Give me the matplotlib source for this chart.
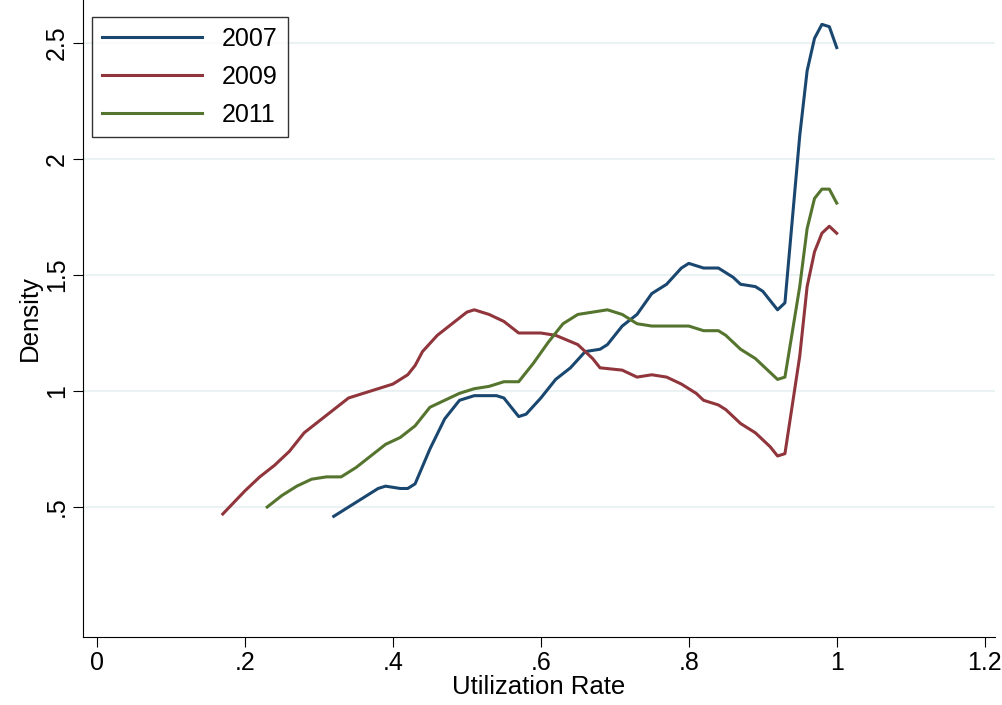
import matplotlib
matplotlib.use("Agg")
import matplotlib.pyplot as plt

plt.rcParams["font.family"] = ["Liberation Sans", "DejaVu Sans"]

X07 = [0.32, 0.35, 0.38, 0.39, 0.41, 0.42, 0.43, 0.45, 0.47, 0.49, 0.51, 0.54, 0.55, 0.57, 0.58, 0.60,
       0.62, 0.64, 0.66, 0.68, 0.69, 0.71, 0.73, 0.75, 0.77, 0.79, 0.80, 0.82, 0.84, 0.86, 0.87, 0.89,
       0.90, 0.92, 0.93, 0.95, 0.96, 0.97, 0.98, 0.99, 1.00]
Y07 = [0.46, 0.52, 0.58, 0.59, 0.58, 0.58, 0.60, 0.75, 0.88, 0.96, 0.98, 0.98, 0.97, 0.89, 0.90, 0.97,
       1.05, 1.10, 1.17, 1.18, 1.20, 1.28, 1.33, 1.42, 1.46, 1.53, 1.55, 1.53, 1.53, 1.49, 1.46, 1.45,
       1.43, 1.35, 1.38, 2.10, 2.38, 2.52, 2.58, 2.57, 2.48]

X09 = [0.17, 0.20, 0.22, 0.24, 0.26, 0.28, 0.30, 0.32, 0.34, 0.36, 0.38, 0.40, 0.42, 0.43, 0.44, 0.46,
       0.48, 0.50, 0.51, 0.53, 0.55, 0.57, 0.60, 0.62, 0.65, 0.67, 0.68, 0.71, 0.73, 0.75, 0.77, 0.79,
       0.81, 0.82, 0.84, 0.85, 0.87, 0.89, 0.91, 0.92, 0.93, 0.95, 0.96, 0.97, 0.98, 0.99, 1.00]
Y09 = [0.47, 0.57, 0.63, 0.68, 0.74, 0.82, 0.87, 0.92, 0.97, 0.99, 1.01, 1.03, 1.07, 1.11, 1.17, 1.24,
       1.29, 1.34, 1.35, 1.33, 1.30, 1.25, 1.25, 1.24, 1.20, 1.14, 1.10, 1.09, 1.06, 1.07, 1.06, 1.03,
       0.99, 0.96, 0.94, 0.92, 0.86, 0.82, 0.76, 0.72, 0.73, 1.15, 1.45, 1.60, 1.68, 1.71, 1.68]

X11 = [0.23, 0.25, 0.27, 0.29, 0.31, 0.33, 0.35, 0.37, 0.39, 0.41, 0.43, 0.45, 0.47, 0.49, 0.51, 0.53,
       0.55, 0.57, 0.59, 0.61, 0.63, 0.65, 0.67, 0.69, 0.71, 0.73, 0.75, 0.78, 0.80, 0.82, 0.84, 0.85,
       0.87, 0.89, 0.91, 0.92, 0.93, 0.95, 0.96, 0.97, 0.98, 0.99, 1.00]
Y11 = [0.50, 0.55, 0.59, 0.62, 0.63, 0.63, 0.67, 0.72, 0.77, 0.80, 0.85, 0.93, 0.96, 0.99, 1.01, 1.02,
       1.04, 1.04, 1.12, 1.21, 1.29, 1.33, 1.34, 1.35, 1.33, 1.29, 1.28, 1.28, 1.28, 1.26, 1.26, 1.24,
       1.18, 1.14, 1.08, 1.05, 1.06, 1.45, 1.70, 1.83, 1.87, 1.87, 1.81]

SERIES = [("2007", X07, Y07, "#1a476f"),
          ("2009", X09, Y09, "#90353b"),
          ("2011", X11, Y11, "#55752f")]

fig = plt.figure(figsize=(10.03, 7.05), dpi=100)
ax = fig.add_axes([83 / 1003, 1 - 637 / 705, (995 - 83) / 1003, 637 / 705])

for lab, x, y, c in SERIES:
    ax.plot(x, y, color=c, lw=2.2, label=lab)

ax.set_xlim(-0.019, 1.214)
ax.set_ylim(-0.06, 2.685)
ax.set_xticks([0, 0.2, 0.4, 0.6, 0.8, 1.0, 1.2])
ax.set_xticklabels(["0", ".2", ".4", ".6", ".8", "1", "1.2"])
ax.set_yticks([0.5, 1, 1.5, 2, 2.5])
ax.set_yticklabels([".5", "1", "1.5", "2", "2.5"], rotation=90, va="center")
ax.tick_params(labelsize=18, length=7, pad=3)
ax.grid(axis="y", color="#eaf2f3", lw=1.5)
ax.set_axisbelow(True)
for s in ("top", "right"):
    ax.spines[s].set_visible(False)
ax.set_xlabel("Utilization Rate", fontsize=18.5, labelpad=0)
ax.set_ylabel("Density", fontsize=18.5, labelpad=2)

leg = ax.legend(loc="upper left", fontsize=18, fancybox=False, edgecolor="black",
                handlelength=4.0, handletextpad=0.8, labelspacing=0.55,
                borderpad=0.4, borderaxespad=0.0,
                bbox_to_anchor=(9 / 912, 1 - 17 / 637))
leg.get_frame().set_linewidth(1)

fig.savefig("out.png", dpi=100)
